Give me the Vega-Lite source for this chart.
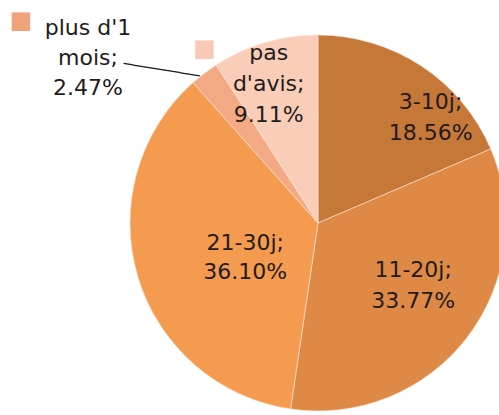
{
  "$schema": "https://vega.github.io/schema/vega-lite/v6.json",
  "width": 362,
  "height": 376,
  "autosize": {"type": "none"},
  "padding": {"left": 137, "top": 35, "right": 0, "bottom": 4},
  "background": "white",
  "config": {"view": {"stroke": null}},
  "data": {
    "values": [
      {"cat": "3-10j", "value": 18.56, "label": "3-10j;\n18.56%"},
      {"cat": "11-20j", "value": 33.77, "label": "11-20j;\n33.77%"},
      {"cat": "21-30j", "value": 36.10, "label": "21-30j;\n36.10%"},
      {"cat": "plus d'1 mois", "value": 2.47, "label": "plus d'1\nmois;\n2.47%"},
      {"cat": "pas d'avis", "value": 9.11, "label": "pas\nd'avis;\n9.11%"}
    ]
  },
  "transform": [
    {"stack": "value", "groupby": [], "as": ["v0", "v1"]},
    {"calculate": "(datum.v0 + datum.v1) / 2", "as": "mid"}
  ],
  "layer": [
    {
      "mark": {"type": "arc", "outerRadius": 188, "stroke": "#fbe6d8", "strokeWidth": 0.6},
      "encoding": {
        "theta": {"field": "v0", "type": "quantitative", "scale": {"domain": [0, 100.01]}},
        "theta2": {"field": "v1"},
        "color": {
          "field": "cat", "type": "nominal", "legend": null,
          "scale": {
            "domain": ["3-10j", "11-20j", "21-30j", "plus d'1 mois", "pas d'avis"],
            "range": ["#C67839", "#DE8A46", "#F59B50", "#F3AA84", "#FACDB9"]
          }
        }
      }
    },
    {
      "transform": [{"filter": "datum.cat === '3-10j'"}],
      "mark": {"type": "text", "radius": 150, "dx": 30, "dy": 4, "font": "DejaVu Sans", "fontSize": 22, "lineBreak": "\n", "lineHeight": 31, "color": "#231b1b", "align": "center", "baseline": "middle"},
      "encoding": {"theta": {"field": "mid", "type": "quantitative", "stack": null, "scale": {"domain": [0, 100.01]}}, "text": {"field": "label"}}
    },
    {
      "transform": [{"filter": "datum.cat === '11-20j'"}],
      "mark": {"type": "text", "radius": 115, "dx": 4, "dy": -23, "font": "DejaVu Sans", "fontSize": 22, "lineBreak": "\n", "lineHeight": 31, "color": "#231b1b", "align": "center", "baseline": "middle"},
      "encoding": {"theta": {"field": "mid", "type": "quantitative", "stack": null, "scale": {"domain": [0, 100.01]}}, "text": {"field": "label"}}
    },
    {
      "transform": [{"filter": "datum.cat === '21-30j'"}],
      "mark": {"type": "text", "radius": 78, "dx": 2, "dy": -2, "font": "DejaVu Sans", "fontSize": 22, "lineBreak": "\n", "lineHeight": 29, "color": "#231b1b", "align": "center", "baseline": "middle"},
      "encoding": {"theta": {"field": "mid", "type": "quantitative", "stack": null, "scale": {"domain": [0, 100.01]}}, "text": {"field": "label"}}
    },
    {
      "transform": [{"filter": "datum.cat === 'pas d\\'avis'"}],
      "mark": {"type": "text", "radius": 150, "dx": -7, "dy": -26, "font": "DejaVu Sans", "fontSize": 22, "lineBreak": "\n", "lineHeight": 31, "color": "#231b1b", "align": "center", "baseline": "middle"},
      "encoding": {"theta": {"field": "mid", "type": "quantitative", "stack": null, "scale": {"domain": [0, 100.01]}}, "text": {"field": "label"}}
    },
    {
      "transform": [{"filter": "datum.cat === 'pas d\\'avis'"}],
      "mark": {"type": "text", "radius": 150, "dx": -71, "dy": -30, "font": "DejaVu Sans", "fontSize": 24, "color": "#F8C9B4", "align": "center", "baseline": "middle", "text": "■"},
      "encoding": {"theta": {"field": "mid", "type": "quantitative", "stack": null, "scale": {"domain": [0, 100.01]}}}
    },
    {
      "transform": [{"filter": "datum.cat === 'plus d\\'1 mois'"}],
      "mark": {"type": "text", "radius": 200, "dx": -109, "dy": -36, "font": "DejaVu Sans", "fontSize": 22, "lineBreak": "\n", "lineHeight": 30, "color": "#231b1b", "align": "center", "baseline": "middle"},
      "encoding": {"theta": {"field": "mid", "type": "quantitative", "stack": null, "scale": {"domain": [0, 100.01]}}, "text": {"field": "label"}}
    },
    {
      "transform": [{"filter": "datum.cat === 'plus d\\'1 mois'"}],
      "mark": {"type": "text", "radius": 200, "dx": -176, "dy": -43, "font": "DejaVu Sans", "fontSize": 24, "color": "#F0A37B", "align": "center", "baseline": "middle", "text": "■"},
      "encoding": {"theta": {"field": "mid", "type": "quantitative", "stack": null, "scale": {"domain": [0, 100.01]}}}
    },
    {
      "transform": [{"filter": "datum.cat === 'plus d\\'1 mois'"}],
      "mark": {"type": "text", "radius": 200, "dx": -34, "dy": 12, "font": "DejaVu Sans", "fontSize": 16, "color": "#1e1e1e", "align": "center", "baseline": "middle", "angle": 9.3, "text": "────────"},
      "encoding": {"theta": {"field": "mid", "type": "quantitative", "stack": null, "scale": {"domain": [0, 100.01]}}}
    }
  ]
}
